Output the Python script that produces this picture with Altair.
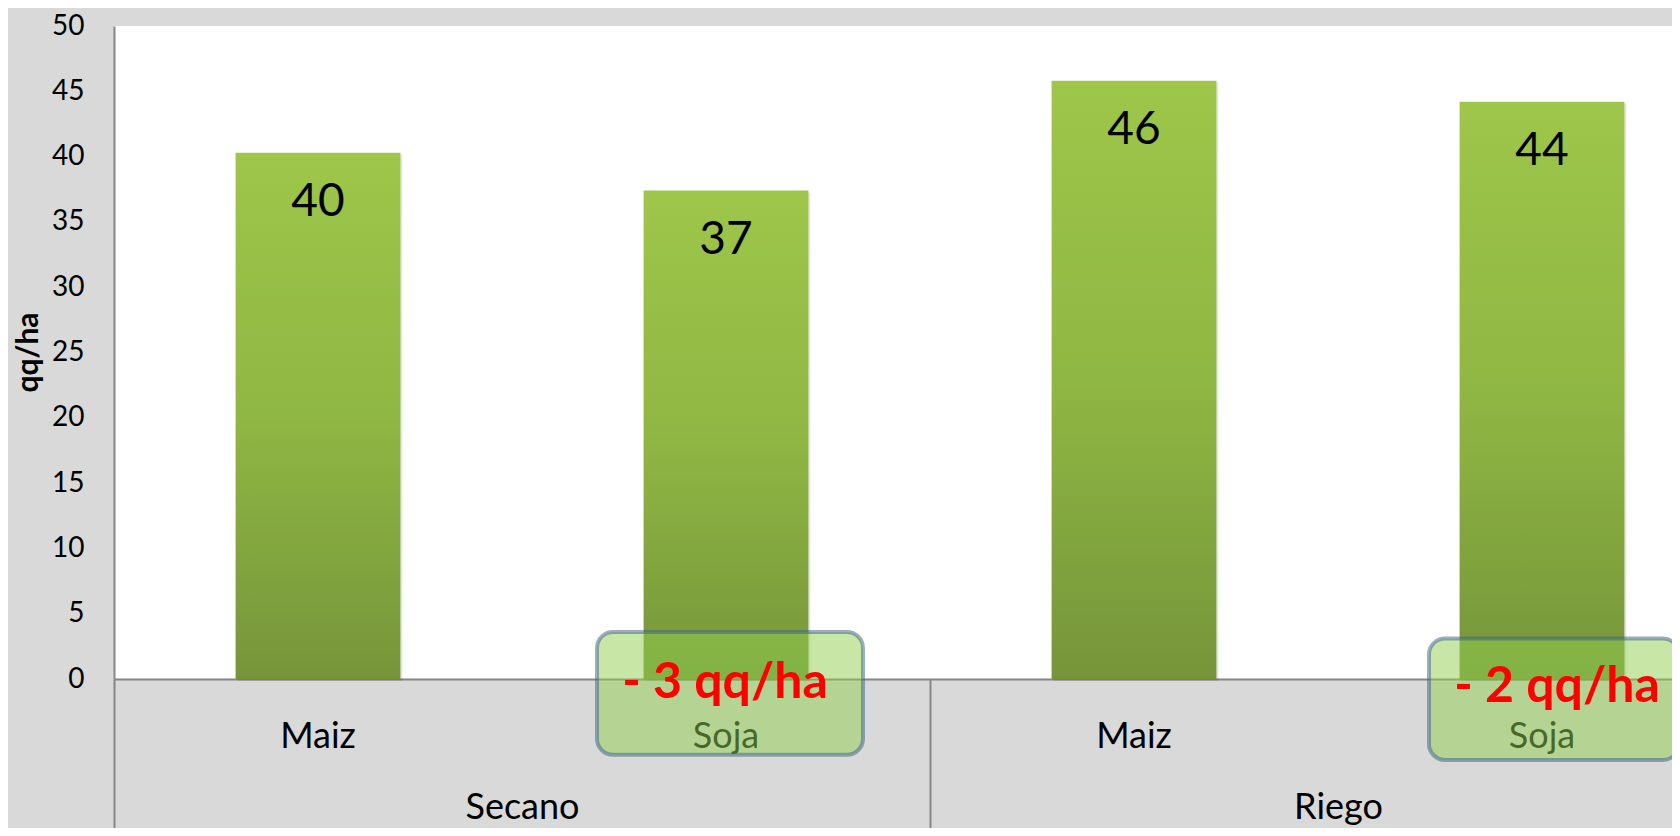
import altair as alt
import pandas as pd

# ---- data ----
groups = ["Secano", "Secano", "Riego", "Riego"]
crops = ["Maiz", "Soja", "Maiz", "Soja"]
values = [40.3, 37.4, 45.8, 44.2]

y_ticks = [0, 5, 10, 15, 20, 25, 30, 35, 40, 45, 50]
group_names = ["Secano", "Riego"]

ann_groups = ["Secano", "Riego"]
ann_crops = ["Soja", "Soja"]
ann_text = ["- 3 qq/ha", "- 2 qq/ha"]
box_top = [3.6, 3.1]
box_bottom = [-5.8, -6.2]
ann_text_y = [-1.45, -1.75]

FONT = "Lato"
GRAY = "#868686"

keys = [f"{g}|{c}" for g, c in zip(groups, crops)]
df = pd.DataFrame({"key": keys, "group": groups, "crop": crops, "value": values})
adf = pd.DataFrame({
    "key": [f"{g}|{c}" for g, c in zip(ann_groups, ann_crops)],
    "text": ann_text,
    "top": box_top,
    "bottom": box_bottom,
    "ty": ann_text_y,
})
gdf = pd.DataFrame({"group": group_names})

x_scale = alt.Scale(domain=keys, range=[0, 1632], paddingInner=0.596, paddingOuter=0.298)
g_scale = alt.Scale(domain=group_names, range=[0, 1632], paddingInner=0, paddingOuter=0)
y_scale = alt.Scale(domain=[0, 50], nice=False, zero=True)

x_axis = alt.Axis(
    title=None, labelExpr="split(datum.label, '|')[1]", labelFont=FONT, labelFontSize=36,
    labelColor="black", labelPadding=68, labelBaseline="alphabetic", labelAngle=0,
    labelAlign="center", ticks=False, tickSize=0, domainColor=GRAY, domainWidth=2, grid=False,
)
y_axis = alt.Axis(
    values=y_ticks, title="qq/ha", labelFont=FONT, labelFontSize=28, labelColor="black",
    labelPadding=30, ticks=False, domainColor=GRAY, domainWidth=2, grid=False,
    titleFont=FONT, titleFontSize=30, titleFontWeight="bold", titleColor="black",
    titleX=-86, titleY=326, titleAngle=270, titleAlign="center", titleBaseline="middle",
)

gradient = alt.Gradient(
    gradient="linear", x1=0, x2=0, y1=0, y2=1,
    stops=[alt.GradientStop(color="#9dc64a", offset=0),
           alt.GradientStop(color="#8fb743", offset=0.5),
           alt.GradientStop(color="#76953a", offset=1)],
)

shadow = alt.Chart(df).mark_bar(color="#000000", opacity=0.10, xOffset=2, yOffset=2).encode(
    x=alt.X("key:N", scale=x_scale, axis=x_axis),
    y=alt.Y("value:Q", scale=y_scale, axis=y_axis),
)

bars = alt.Chart(df).mark_bar(color=gradient).encode(
    x=alt.X("key:N", scale=x_scale, axis=x_axis),
    y=alt.Y("value:Q", scale=y_scale, axis=y_axis),
)

value_labels = alt.Chart(df).mark_text(
    font=FONT, fontSize=46, color="black", baseline="alphabetic", align="center", dy=63
).encode(
    x=alt.X("key:N", scale=x_scale, axis=x_axis),
    y=alt.Y("value:Q", scale=y_scale, axis=y_axis),
    text=alt.Text("value:Q", format=".0f"),
)

# callout boxes: (width, x offset, text dx) per annotation
box_styles = [(266, 4, -1), (250, 12, 15)]

ann_layers = []
for i, (bw, bx, tdx) in enumerate(box_styles):
    sub = adf.iloc[[i]]
    ann_layers.append(
        alt.Chart(sub).mark_bar(
            width=bw, xOffset=bx, cornerRadius=16, fill="#92d050", fillOpacity=0.5,
            stroke="#385d8a", strokeOpacity=0.5, strokeWidth=4,
        ).encode(
            x=alt.X("key:N", scale=x_scale, axis=x_axis),
            y=alt.Y("top:Q", scale=y_scale, axis=y_axis),
            y2="bottom:Q",
        )
    )
    ann_layers.append(
        alt.Chart(sub).mark_text(
            font=FONT, fontSize=50, fontWeight="bold", color="#ff0000",
            baseline="alphabetic", align="center", dx=tdx,
        ).encode(
            x=alt.X("key:N", scale=x_scale, axis=x_axis),
            y=alt.Y("ty:Q", scale=y_scale, axis=y_axis),
            text="text:N",
        )
    )

main = alt.layer(shadow, bars, value_labels, *ann_layers)

group_axis = alt.Axis(
    orient="bottom", title=None, labelFont=FONT, labelFontSize=36, labelColor="black",
    labelBaseline="alphabetic", labelPadding=-21, labelAngle=0, labelAlign="center",
    ticks=True, tickBand="extent", tickSize=160, tickColor=GRAY, tickWidth=2,
    domain=False, grid=False,
)
group_layer = alt.Chart(gdf).mark_point(opacity=0).encode(
    x=alt.X("group:N", scale=g_scale, axis=group_axis),
)

chart = alt.layer(main, group_layer).resolve_scale(x="independent").properties(
    width=1558,
    height=653,
    autosize=alt.AutoSizeParams(type="none"),
    padding={"left": 106, "top": 18, "right": 0, "bottom": 149},
    background="#d9d9d9",
).configure_view(fill="white", stroke=None)

chart.save("out.html", embed_options={"renderer": "svg", "actions": False})
